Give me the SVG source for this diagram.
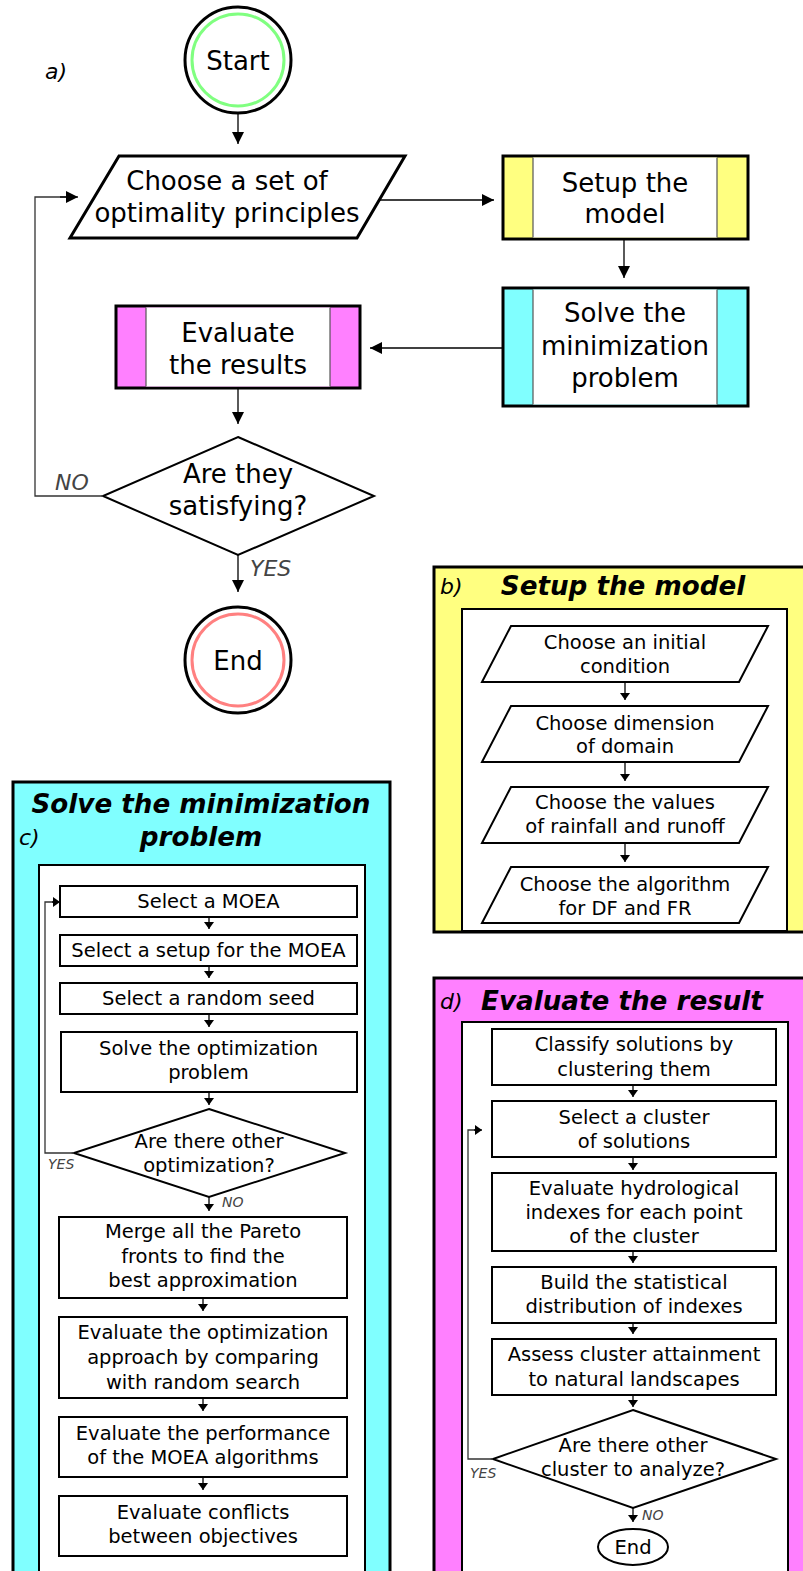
<svg xmlns="http://www.w3.org/2000/svg" width="803" height="1571" viewBox="0 0 803 1571">
<defs>
<style>
text{font-family:"DejaVu Sans","Liberation Sans",sans-serif;fill:#000}
.t26{font-size:26px;text-anchor:middle}
.t19{font-size:19.5px;text-anchor:middle}
.ttl{font-size:26.2px;font-weight:bold;font-style:italic;text-anchor:middle}
.lab{font-size:22px;font-style:italic}
.yn{font-size:22px;font-style:italic;fill:#444}
.yns{font-size:14px;font-style:italic;fill:#444}
.main{fill:#fff;stroke:#000;stroke-width:3}
.sub{fill:#fff;stroke:#000;stroke-width:2}
.sep{stroke:#555;stroke-width:1.2}
.con{fill:none;stroke:#000;stroke-width:1.3}
.conb{fill:none;stroke:#000;stroke-width:1.3;marker-end:url(#ab)}
.cons{fill:none;stroke:#000;stroke-width:1.3;marker-end:url(#as)}
.loop{fill:none;stroke:#333;stroke-width:1.3}
</style>
<marker id="ab" markerUnits="userSpaceOnUse" markerWidth="12" markerHeight="12" refX="12" refY="6" orient="auto"><path d="M0,0 L12,6 L0,12 z" fill="#000"/></marker>
<marker id="as" markerUnits="userSpaceOnUse" markerWidth="8" markerHeight="10" refX="7" refY="5" orient="auto"><path d="M0,0 L7,5 L0,10 z" fill="#000"/></marker>
</defs>

<g id="panel-a">
<text class="lab" x="45" y="79">a)</text>
<g id="start">
<circle cx="238" cy="60" r="53" fill="#fff" stroke="#000" stroke-width="3"/>
<circle cx="238" cy="60" r="46" fill="none" stroke="#80ff80" stroke-width="3"/>
<text class="t26" x="238" y="70">Start</text>
</g>
<g id="choose">
<polygon class="main" points="119,156 405,156 357,238 70,238"/>
<text class="t26" x="227" y="190">Choose a set of</text>
<text class="t26" x="227" y="222">optimality principles</text>
</g>
<g id="setup">
<rect x="503" y="156" width="245" height="83" fill="#ffff80" stroke="#000" stroke-width="3"/>
<rect x="533" y="157.5" width="184" height="80" fill="#fff"/>
<line class="sep" x1="533" y1="157.5" x2="533" y2="237.5"/>
<line class="sep" x1="717" y1="157.5" x2="717" y2="237.5"/>
<text class="t26" x="625" y="192">Setup the</text>
<text class="t26" x="625" y="223">model</text>
</g>
<g id="solve">
<rect x="503" y="288" width="245" height="118" fill="#80ffff" stroke="#000" stroke-width="3"/>
<rect x="533" y="289.5" width="184" height="115" fill="#fff"/>
<line class="sep" x1="533" y1="289.5" x2="533" y2="404.5"/>
<line class="sep" x1="717" y1="289.5" x2="717" y2="404.5"/>
<text class="t26" x="625" y="322">Solve the</text>
<text class="t26" x="625" y="355">minimization</text>
<text class="t26" x="625" y="387">problem</text>
</g>
<g id="evaluate">
<rect x="116" y="306" width="244" height="82" fill="#ff80ff" stroke="#000" stroke-width="3"/>
<rect x="146" y="307.5" width="184" height="79" fill="#fff"/>
<line class="sep" x1="146" y1="307.5" x2="146" y2="386.5"/>
<line class="sep" x1="330" y1="307.5" x2="330" y2="386.5"/>
<text class="t26" x="238" y="342">Evaluate</text>
<text class="t26" x="238" y="374">the results</text>
</g>
<g id="decision">
<polygon fill="#fff" stroke="#000" stroke-width="2" points="238,437 374,496 238,555 103,496"/>
<text class="t26" x="238" y="483">Are they</text>
<text class="t26" x="238" y="515">satisfying?</text>
</g>
<g id="end">
<circle cx="238" cy="660" r="53" fill="#fff" stroke="#000" stroke-width="3"/>
<circle cx="238" cy="660" r="46" fill="none" stroke="#ff8080" stroke-width="3"/>
<text class="t26" x="238" y="670">End</text>
</g>
<text class="yn" x="55" y="490">NO</text>
<text class="yn" x="250" y="576">YES</text>
</g>

<g id="panel-b">
<rect x="434" y="567" width="380" height="365" fill="#ffff80" stroke="#000" stroke-width="3"/>
<rect x="462" y="609" width="325" height="322" fill="#fff" stroke="#000" stroke-width="2"/>
<text class="lab" x="440" y="594">b)</text>
<text class="ttl" x="623" y="595">Setup the model</text>
<g id="b1"><polygon class="sub" points="511,626 768,626 739,682 482,682"/>
<text class="t19" x="625" y="649">Choose an initial</text><text class="t19" x="625" y="673">condition</text></g>
<g id="b2"><polygon class="sub" points="511,706 768,706 739,762 482,762"/>
<text class="t19" x="625" y="730">Choose dimension</text><text class="t19" x="625" y="753">of domain</text></g>
<g id="b3"><polygon class="sub" points="511,787 768,787 739,843 482,843"/>
<text class="t19" x="625" y="809">Choose the values</text><text class="t19" x="625" y="833">of rainfall and runoff</text></g>
<g id="b4"><polygon class="sub" points="511,867 768,867 739,923 482,923"/>
<text class="t19" x="625" y="891">Choose the algorithm</text><text class="t19" x="625" y="915">for DF and FR</text></g>
</g>

<g id="panel-c">
<rect x="13" y="782" width="377" height="800" fill="#80ffff" stroke="#000" stroke-width="3"/>
<rect x="39" y="865" width="326" height="720" fill="#fff" stroke="#000" stroke-width="2"/>
<text class="ttl" x="201" y="813">Solve the minimization</text>
<text class="ttl" x="201" y="846">problem</text>
<text class="lab" x="19" y="845">c)</text>
<g id="c1"><rect class="sub" x="60" y="886" width="297" height="31"/><text class="t19" x="208.5" y="908">Select a MOEA</text></g>
<g id="c2"><rect class="sub" x="60" y="935" width="297" height="31"/><text class="t19" x="208.5" y="957">Select a setup for the MOEA</text></g>
<g id="c3"><rect class="sub" x="60" y="983" width="297" height="31"/><text class="t19" x="208.5" y="1005">Select a random seed</text></g>
<g id="c4"><rect class="sub" x="61" y="1032" width="296" height="60"/><text class="t19" x="208.5" y="1055">Solve the optimization</text><text class="t19" x="208.5" y="1079">problem</text></g>
<g id="c5"><polygon class="sub" points="209,1109 345,1153 209,1197 74,1153" stroke-width="1.5"/><text class="t19" x="209" y="1148">Are there other</text><text class="t19" x="209" y="1172">optimization?</text></g>
<g id="c6"><rect class="sub" x="59" y="1217" width="288" height="81"/><text class="t19" x="203" y="1238">Merge all the Pareto</text><text class="t19" x="203" y="1263">fronts to find the</text><text class="t19" x="203" y="1287">best approximation</text></g>
<g id="c7"><rect class="sub" x="59" y="1317" width="288" height="81"/><text class="t19" x="203" y="1339">Evaluate the optimization</text><text class="t19" x="203" y="1364">approach by comparing</text><text class="t19" x="203" y="1389">with random search</text></g>
<g id="c8"><rect class="sub" x="59" y="1417" width="288" height="60"/><text class="t19" x="203" y="1440">Evaluate the performance</text><text class="t19" x="203" y="1464">of the MOEA algorithms</text></g>
<g id="c9"><rect class="sub" x="59" y="1496" width="288" height="60"/><text class="t19" x="203" y="1519">Evaluate conflicts</text><text class="t19" x="203" y="1543">between objectives</text></g>
<text class="yns" x="48" y="1169">YES</text>
<text class="yns" x="222" y="1207">NO</text>
</g>

<g id="panel-d">
<rect x="434" y="978" width="380" height="610" fill="#ff80ff" stroke="#000" stroke-width="3"/>
<rect x="462" y="1022" width="326" height="560" fill="#fff" stroke="#000" stroke-width="2"/>
<text class="lab" x="440" y="1009">d)</text>
<text class="ttl" x="622" y="1010">Evaluate the result</text>
<g id="d1"><rect class="sub" x="492" y="1029" width="284" height="56"/><text class="t19" x="634" y="1051">Classify solutions by</text><text class="t19" x="634" y="1076">clustering them</text></g>
<g id="d2"><rect class="sub" x="492" y="1101" width="284" height="56"/><text class="t19" x="634" y="1124">Select a cluster</text><text class="t19" x="634" y="1148">of solutions</text></g>
<g id="d3"><rect class="sub" x="492" y="1173" width="284" height="78"/><text class="t19" x="634" y="1195">Evaluate hydrological</text><text class="t19" x="634" y="1219">indexes for each point</text><text class="t19" x="634" y="1243">of the cluster</text></g>
<g id="d4"><rect class="sub" x="492" y="1267" width="284" height="56"/><text class="t19" x="634" y="1289">Build the statistical</text><text class="t19" x="634" y="1313">distribution of indexes</text></g>
<g id="d5"><rect class="sub" x="492" y="1339" width="284" height="56"/><text class="t19" x="634" y="1361">Assess cluster attainment</text><text class="t19" x="634" y="1386">to natural landscapes</text></g>
<g id="d6"><polygon class="sub" points="633,1410 776,1459 633,1508 493,1459" stroke-width="1.5"/><text class="t19" x="633" y="1452">Are there other</text><text class="t19" x="633" y="1476">cluster to analyze?</text></g>
<g id="d7"><ellipse cx="633" cy="1547" rx="35" ry="18" fill="#fff" stroke="#000" stroke-width="2"/><text class="t19" x="633" y="1554">End</text></g>
<text class="yns" x="470" y="1478">YES</text>
<text class="yns" x="642" y="1520">NO</text>
</g>

<g id="connectors">
<line class="conb" x1="238" y1="113" x2="238" y2="144"/>
<line class="conb" x1="380" y1="200" x2="494" y2="200"/>
<line class="conb" x1="624" y1="239" x2="624" y2="278"/>
<line class="conb" x1="503" y1="348" x2="370" y2="348"/>
<line class="conb" x1="238" y1="388" x2="238" y2="424"/>
<polyline class="loop" points="103,496 35,496 35,197 66,197"/>
<line class="conb" x1="60" y1="197" x2="78" y2="197"/>
<line class="conb" x1="238" y1="555" x2="238" y2="592"/>

<line class="cons" x1="625" y1="682" x2="625" y2="700"/>
<line class="cons" x1="625" y1="762" x2="625" y2="781"/>
<line class="cons" x1="625" y1="843" x2="625" y2="862"/>

<line class="cons" x1="209" y1="917" x2="209" y2="929"/>
<line class="cons" x1="209" y1="966" x2="209" y2="978"/>
<line class="cons" x1="209" y1="1014" x2="209" y2="1027"/>
<line class="cons" x1="209" y1="1092" x2="209" y2="1105"/>
<polyline class="loop" points="74,1153 45,1153 45,902 55,902"/>
<line class="cons" x1="52" y1="902" x2="60" y2="902"/>
<line class="cons" x1="209" y1="1197" x2="209" y2="1211"/>
<line class="cons" x1="203" y1="1298" x2="203" y2="1311"/>
<line class="cons" x1="203" y1="1398" x2="203" y2="1411"/>
<line class="cons" x1="203" y1="1477" x2="203" y2="1490"/>

<line class="cons" x1="633" y1="1085" x2="633" y2="1097"/>
<line class="cons" x1="633" y1="1157" x2="633" y2="1170"/>
<line class="cons" x1="633" y1="1251" x2="633" y2="1263"/>
<line class="cons" x1="633" y1="1323" x2="633" y2="1334"/>
<line class="cons" x1="633" y1="1395" x2="633" y2="1407"/>
<polyline class="loop" points="493,1459 468,1459 468,1130 476,1130"/>
<line class="cons" x1="474" y1="1130" x2="482" y2="1130"/>
<line class="cons" x1="633" y1="1508" x2="633" y2="1522"/>
</g>
</svg>
